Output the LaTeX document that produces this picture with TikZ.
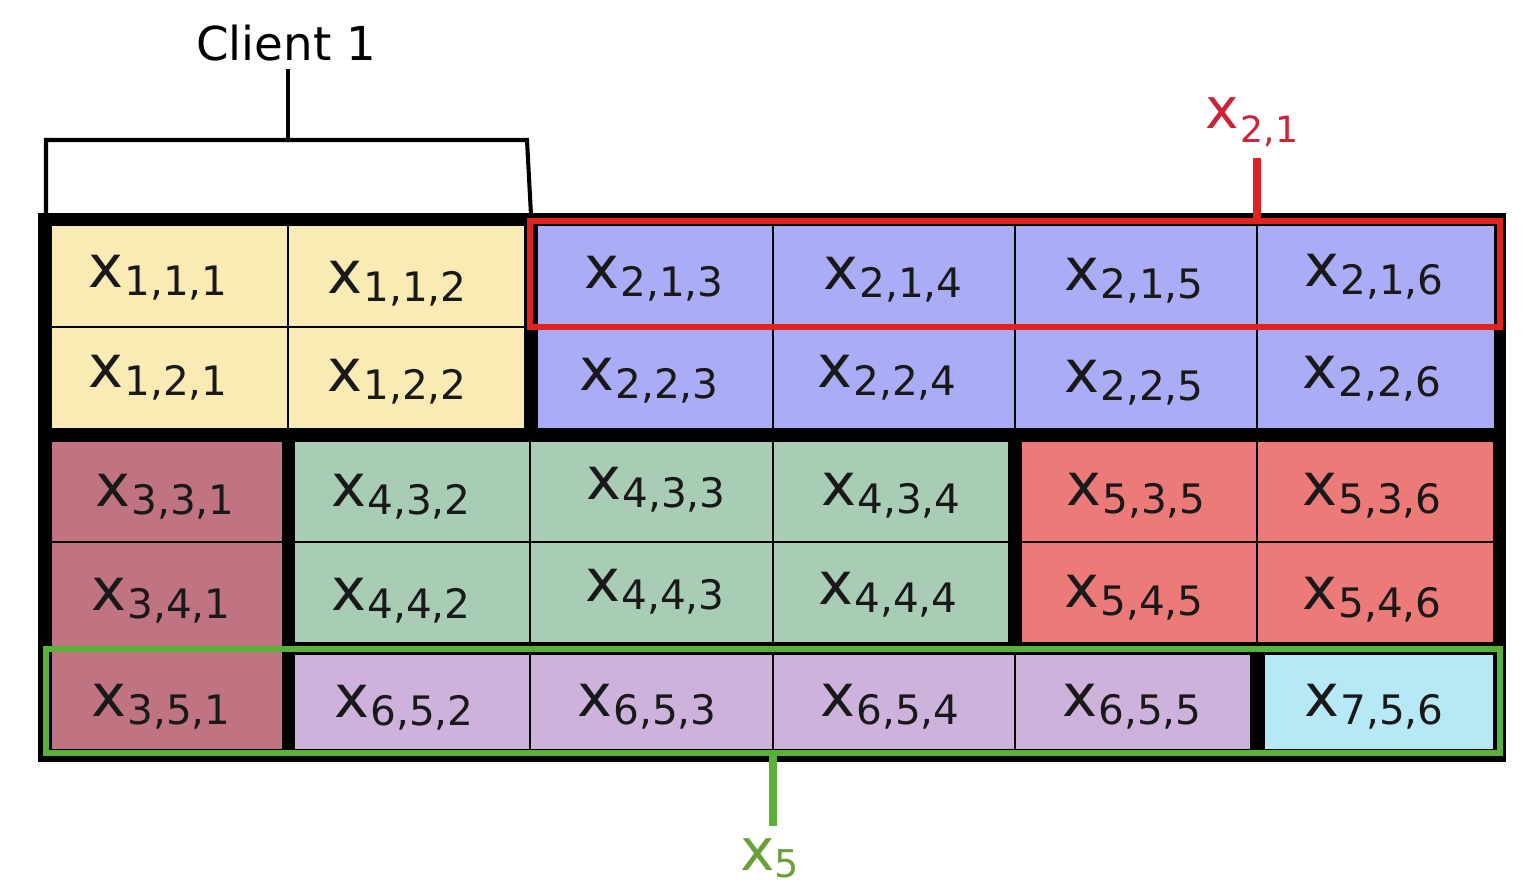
\documentclass[tikz,border=0pt]{standalone}
\usepackage{fontspec}
\setmainfont{DejaVu Sans}
\definecolor{cyel}{HTML}{FAEAB4}
\definecolor{cblue}{HTML}{AAACF5}
\definecolor{cmar}{HTML}{C07380}
\definecolor{cgrn}{HTML}{A8CDB4}
\definecolor{csal}{HTML}{EC7A78}
\definecolor{clil}{HTML}{CDB2DC}
\definecolor{ccyan}{HTML}{B6E8F6}
\definecolor{redline}{HTML}{E1231E}
\definecolor{redlab}{HTML}{CD2337}
\definecolor{grnline}{HTML}{58B238}
\definecolor{grnlab}{HTML}{69A03C}
\newcommand\xcell[1]{{\fontsize{33.5}{33}\selectfont x}\kern0.5pt\raisebox{-4.5pt}{\fontsize{23}{23}\selectfont #1}}
\newcommand\mkcell[8]{%
  \fill[#6] (#2,#3) rectangle (#4,#5);
  \node[celltext] (#1) at (#7,#8) {\xcell{#1}};}
\begin{document}
\begin{tikzpicture}[x=0.5669pt,y=-0.5669pt,
  celltext/.style={inner sep=0pt,text=black!90},
  labeltext/.style={inner sep=0pt}]
\useasboundingbox (0,0) rectangle (1530,896);
\fill[white] (0,0) rectangle (1530,896);
% Client 1 label and bracket
\node[labeltext,anchor=base] (client) at (286,60) {\fontsize{26.5}{26}\selectfont Client 1};
\coordinate (cstemtop) at (288,69);
\coordinate (cstembot) at (288,140);
\coordinate (bl) at (46,215);
\coordinate (tl) at (46,140);
\coordinate (tr) at (527,140);
\coordinate (br) at (531,215);
\draw[line width=2.3pt,line join=miter] (bl) -- (tl) -- (tr) -- (br);
\draw[line width=2.3pt] (cstemtop) -- (cstembot);
% black frame
\fill[black] (38,213) rectangle (1506,762);
% yellow
\mkcell{1,1,1}{52}{226}{287}{326}{cyel}{158}{278}
\mkcell{1,1,2}{289}{226}{524}{326}{cyel}{397}{284}
\mkcell{1,2,1}{52}{328}{287}{428}{cyel}{158}{378}
\mkcell{1,2,2}{289}{328}{524}{428}{cyel}{397}{382}
% blue
\mkcell{2,1,3}{538}{226}{772}{326}{cblue}{654}{279}
\mkcell{2,1,4}{774}{226}{1014}{326}{cblue}{893}{280}
\mkcell{2,1,5}{1016}{226}{1256}{326}{cblue}{1134}{281}
\mkcell{2,1,6}{1258}{226}{1494}{326}{cblue}{1374}{277}
\mkcell{2,2,3}{538}{328}{772}{428}{cblue}{649}{381}
\mkcell{2,2,4}{774}{328}{1014}{428}{cblue}{887}{378}
\mkcell{2,2,5}{1016}{328}{1256}{428}{cblue}{1134}{383}
\mkcell{2,2,6}{1258}{328}{1494}{428}{cblue}{1372}{379}
% row 3
\mkcell{3,3,1}{52}{442}{282}{541}{cmar}{165}{497}
\mkcell{4,3,2}{295}{442}{529}{541}{cgrn}{401}{497}
\mkcell{4,3,3}{531}{442}{772}{541}{cgrn}{656}{490}
\mkcell{4,3,4}{774}{442}{1008}{541}{cgrn}{891}{496}
\mkcell{5,3,5}{1022}{442}{1256}{541}{csal}{1136}{496}
\mkcell{5,3,6}{1258}{442}{1493}{541}{csal}{1372}{496}
% row 4
\mkcell{3,4,1}{52}{543}{282}{646}{cmar}{161}{601}
\mkcell{4,4,2}{295}{543}{529}{642}{cgrn}{401}{601}
\mkcell{4,4,3}{531}{543}{772}{642}{cgrn}{655}{592}
\mkcell{4,4,4}{774}{543}{1008}{642}{cgrn}{888}{595}
\mkcell{5,4,5}{1022}{543}{1256}{642}{csal}{1134}{598}
\mkcell{5,4,6}{1258}{543}{1493}{642}{csal}{1372}{600}
% row 5
\mkcell{3,5,1}{52}{652}{282}{749}{cmar}{161}{707}
\mkcell{6,5,2}{295}{655}{529}{749}{clil}{404}{708}
\mkcell{6,5,3}{531}{655}{772}{749}{clil}{647}{707}
\mkcell{6,5,4}{774}{655}{1014}{749}{clil}{890}{707}
\mkcell{6,5,5}{1016}{655}{1250}{749}{clil}{1132}{707}
\mkcell{7,5,6}{1265}{655}{1493}{749}{ccyan}{1374}{707}
% red highlight x_{2,1}
\draw[redline,line width=2.9pt] (530,221) rectangle (1500,327);
\node[labeltext,anchor=base west,text=redlab] (x21) at (1205,128)
  {{\fontsize{32}{32}\selectfont x}\kern1pt\raisebox{-8pt}{\fontsize{20.5}{20}\selectfont 2,1}};
\coordinate (rstemtop) at (1257,158);
\coordinate (rstembot) at (1257,219);
\draw[redline,line width=4pt] (rstemtop) -- (rstembot);
% green highlight x_5
\draw[grnline,line width=3.6pt] (46,649) rectangle (1500,753);
\coordinate (gstemtop) at (773,755);
\coordinate (gstembot) at (773,826);
\draw[grnline,line width=4.5pt] (gstemtop) -- (gstembot);
\node[labeltext,anchor=base west,text=grnlab] (x5) at (740,870)
  {{\fontsize{33}{33}\selectfont x}\raisebox{-4.5pt}{\fontsize{21.7}{22}\selectfont 5}};
\end{tikzpicture}
\end{document}
